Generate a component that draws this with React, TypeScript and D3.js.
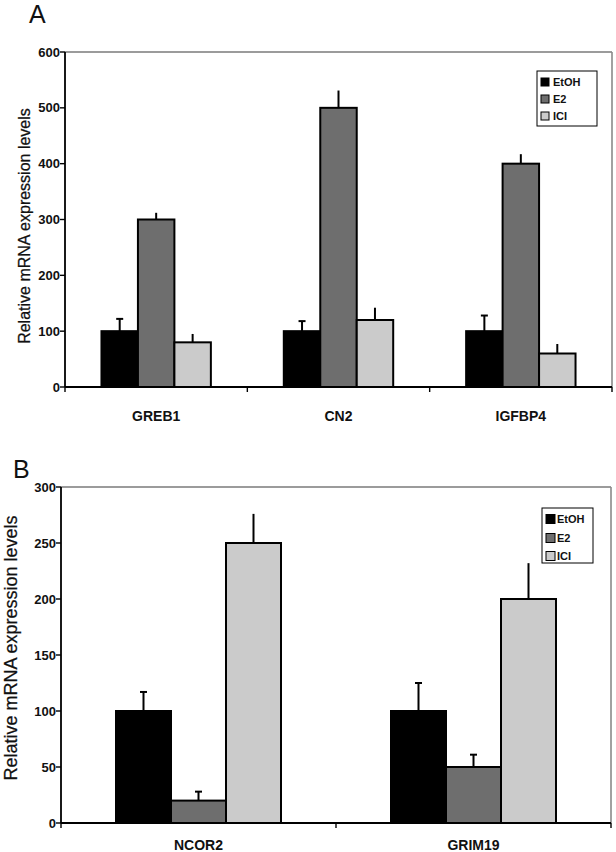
import React from "react";
import * as d3 from "d3";

const seriesNames = ["EtOH", "E2", "ICI"];
const seriesColors = ["#000000", "#6e6e6e", "#cbcbcb"];

const catsA = ["GREB1", "CN2", "IGFBP4"];
const valsA_EtOH = [100, 100, 100];
const valsA_E2 = [300, 500, 400];
const valsA_ICI = [80, 120, 60];
const errA_EtOH = [22, 18, 28];
const errA_E2 = [12, 31, 17];
const errA_ICI = [15, 22, 17];
const ticksA = [0, 100, 200, 300, 400, 500, 600];

const catsB = ["NCOR2", "GRIM19"];
const valsB_EtOH = [100, 100];
const valsB_E2 = [20, 50];
const valsB_ICI = [250, 200];
const errB_EtOH = [17, 25];
const errB_E2 = [8, 11];
const errB_ICI = [26, 32];
const ticksB = [0, 50, 100, 150, 200, 250, 300];

const yTitle = "Relative mRNA expression levels";
const FONT = "'Liberation Sans', Arial, sans-serif";

type PanelProps = {
  letter: string;
  letterX: number;
  letterY: number;
  cats: string[];
  values: number[][];
  errors: number[][];
  caps: boolean[];
  ticks: number[];
  left: number;
  right: number;
  top: number;
  bottom: number;
  titleX: number;
  titleY: number;
  titleSize: number;
  catLabelY: number;
  legend: { x: number; y: number; w: number; h: number; rows: number[]; sw: number; textX: number };
};

function Panel(p: PanelProps) {
  const y = d3.scaleLinear().domain([0, d3.max(p.ticks) as number]).range([p.bottom, p.top]);
  const x = d3.scaleBand<string>().domain(p.cats).range([p.left, p.right]).padding(0);
  const bw = x.bandwidth();
  const inner = d3
    .scaleBand<string>()
    .domain(seriesNames)
    .range([bw * 0.2, bw * 0.8])
    .padding(0);
  const capW = 7;
  return (
    <g>
      <text x={p.letterX} y={p.letterY} fontFamily={FONT} fontSize={25} fill="#111">
        {p.letter}
      </text>
      {/* frame top/right */}
      <line x1={p.left} x2={p.right} y1={p.top} y2={p.top} stroke="#7a7a7a" strokeWidth={1.6} />
      <line x1={p.right} x2={p.right} y1={p.top} y2={p.bottom} stroke="#8a8a8a" strokeWidth={1.6} />
      {/* bars */}
      {p.cats.map((c, ci) =>
        seriesNames.map((s, si) => {
          const v = p.values[si][ci];
          const e = p.errors[si][ci];
          const x0 = (x(c) as number) + (inner(s) as number);
          const w = inner.bandwidth();
          const cx = x0 + w / 2;
          return (
            <g key={c + s}>
              <line x1={cx} x2={cx} y1={y(v)} y2={y(v + e)} stroke="#000" strokeWidth={2} />
              {p.caps[si] && (
                <line x1={cx - capW / 2} x2={cx + capW / 2} y1={y(v + e)} y2={y(v + e)} stroke="#000" strokeWidth={2} />
              )}
              <rect x={x0} y={y(v)} width={w} height={p.bottom - y(v)} fill={seriesColors[si]} stroke="#000" strokeWidth={2} />
            </g>
          );
        })
      )}
      {/* y axis */}
      <line x1={p.left} x2={p.left} y1={p.top} y2={p.bottom} stroke="#000" strokeWidth={1.8} />
      {p.ticks.map((t) => (
        <g key={t}>
          <line x1={p.left - 5} x2={p.left} y1={y(t)} y2={y(t)} stroke="#000" strokeWidth={1.4} />
          <text
            x={p.left - 5}
            y={y(t)}
            dy="0.35em"
            textAnchor="end"
            fontFamily={FONT}
            fontWeight="bold"
            fontSize={13}
            fill="#111"
          >
            {t}
          </text>
        </g>
      ))}
      {/* x axis */}
      <line x1={p.left} x2={p.right} y1={p.bottom} y2={p.bottom} stroke="#000" strokeWidth={1.8} />
      {[...p.cats.map((c) => x(c) as number), p.right].map((tx, i) => (
        <line key={i} x1={tx} x2={tx} y1={p.bottom} y2={p.bottom + 5} stroke="#000" strokeWidth={1.4} />
      ))}
      {p.cats.map((c) => (
        <text
          key={c}
          x={(x(c) as number) + bw / 2}
          y={p.catLabelY}
          textAnchor="middle"
          fontFamily={FONT}
          fontWeight="bold"
          fontSize={14}
          fill="#111"
        >
          {c}
        </text>
      ))}
      {/* y title */}
      <text
        transform={`translate(${p.titleX},${p.titleY}) rotate(-90)`}
        textAnchor="middle"
        dy="0.35em"
        fontFamily={FONT}
        fontSize={p.titleSize}
        fill="#111"
        stroke="#111"
        strokeWidth={0.25}
      >
        {yTitle}
      </text>
      {/* legend */}
      <rect x={p.legend.x} y={p.legend.y} width={p.legend.w} height={p.legend.h} fill="#fff" stroke="#000" strokeWidth={1} />
      {seriesNames.map((s, si) => (
        <g key={s}>
          <rect
            x={p.legend.x + 4}
            y={p.legend.rows[si] - p.legend.sw / 2}
            width={p.legend.sw}
            height={p.legend.sw}
            fill={seriesColors[si]}
            stroke="#000"
            strokeWidth={1}
          />
          <text
            x={p.legend.textX}
            y={p.legend.rows[si]}
            dy="0.36em"
            fontFamily={FONT}
            fontWeight="bold"
            fontSize={11}
            fill="#111"
          >
            {s}
          </text>
        </g>
      ))}
    </g>
  );
}

export default function App() {
  return (
    <svg
      width={616}
      height={852}
      style={{ position: "absolute", left: 0, top: 0, background: "#fff" }}
    >
      <rect width={616} height={852} fill="#fff" />
      <Panel
        letter="A"
        letterX={29}
        letterY={23}
        cats={catsA}
        values={[valsA_EtOH, valsA_E2, valsA_ICI]}
        errors={[errA_EtOH, errA_E2, errA_ICI]}
        caps={[true, false, false]}
        ticks={ticksA}
        left={65}
        right={612}
        top={52}
        bottom={387}
        titleX={24}
        titleY={226}
        titleSize={16}
        catLabelY={421}
        legend={{ x: 537, y: 71, w: 60, h: 55, rows: [82, 99, 116], sw: 8, textX: 553 }}
      />
      <Panel
        letter="B"
        letterX={13}
        letterY={478}
        cats={catsB}
        values={[valsB_EtOH, valsB_E2, valsB_ICI]}
        errors={[errB_EtOH, errB_E2, errB_ICI]}
        caps={[true, true, false]}
        ticks={ticksB}
        left={61}
        right={611}
        top={487}
        bottom={823}
        titleX={11}
        titleY={648}
        titleSize={18}
        catLabelY={850}
        legend={{ x: 542, y: 508, w: 51, h: 55, rows: [519, 538, 556], sw: 9, textX: 557 }}
      />
    </svg>
  );
}
